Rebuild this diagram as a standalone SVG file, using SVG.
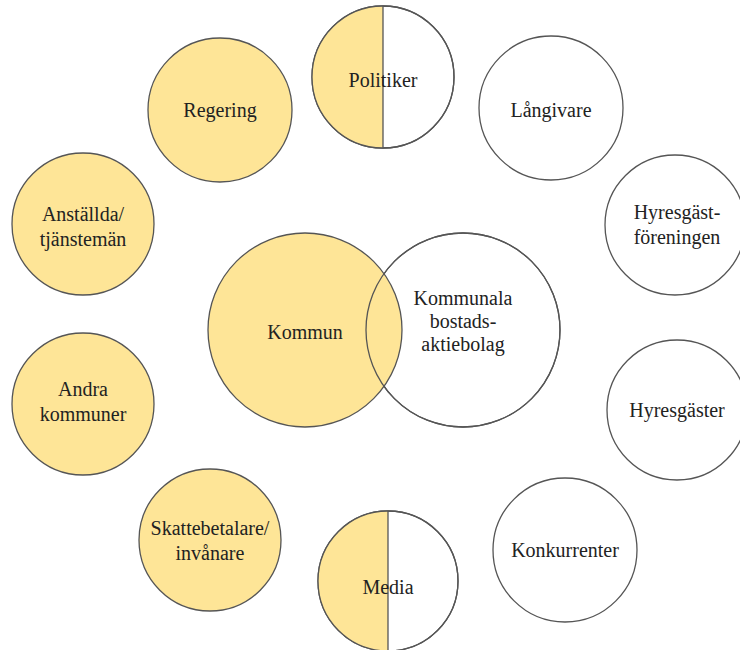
<svg xmlns="http://www.w3.org/2000/svg" width="740" height="650" viewBox="0 0 740 650">
<style>
.y{fill:#FEE597;stroke:#555;stroke-width:1.3}
.w{fill:#fff;stroke:#555;stroke-width:1.3}
.o{fill:none;stroke:#555;stroke-width:1.3}
.hf{fill:#FEE597;stroke:none}
text{font-family:'Liberation Serif','Times New Roman',serif;font-size:20px;fill:#222;text-anchor:middle}
</style>
<rect width="740" height="650" fill="#fff"/>
<g id="connectors"></g>
<g id="kommunala">
<circle class="w" cx="463" cy="330" r="97"/>
</g>
<g id="kommun">
<circle class="y" cx="305" cy="330" r="97"/>
<text x="305" y="339">Kommun</text>
</g>
<g id="kommunala-label">
<circle class="o" cx="463" cy="330" r="97"/>
<text x="463" y="305">Kommunala</text>
<text x="463" y="328">bostads-</text>
<text x="463" y="351">aktiebolag</text>
</g>
<g id="politiker">
<circle class="w" cx="383" cy="77" r="71"/>
<path class="hf" d="M383,6 A71,71 0 0 0 383,148 Z"/>
<circle class="o" cx="383" cy="77" r="71"/>
<line x1="383" y1="6" x2="383" y2="148" stroke="#555" stroke-width="1.3"/>
<text x="383" y="87">Politiker</text>
</g>
<g id="media">
<circle class="w" cx="388" cy="581" r="70"/>
<path class="hf" d="M388,511 A70,70 0 0 0 388,651 Z"/>
<circle class="o" cx="388" cy="581" r="70"/>
<line x1="388" y1="511" x2="388" y2="651" stroke="#555" stroke-width="1.3"/>
<text x="388" y="594">Media</text>
</g>
<g id="regering">
<circle class="y" cx="220" cy="110" r="72"/>
<text x="220" y="117">Regering</text>
</g>
<g id="langivare">
<circle class="w" cx="551" cy="108" r="72"/>
<text x="551" y="117">Långivare</text>
</g>
<g id="hyresgastforeningen">
<circle class="w" cx="675" cy="225" r="70"/>
<text x="677" y="219">Hyresgäst-</text>
<text x="677" y="244">föreningen</text>
</g>
<g id="hyresgaster">
<circle class="w" cx="677" cy="410" r="70"/>
<text x="677" y="417">Hyresgäster</text>
</g>
<g id="konkurrenter">
<circle class="w" cx="565" cy="550" r="72"/>
<text x="565" y="557">Konkurrenter</text>
</g>
<g id="skattebetalare">
<circle class="y" cx="210" cy="540" r="71"/>
<text x="210" y="535">Skattebetalare/</text>
<text x="210" y="560">invånare</text>
</g>
<g id="andra-kommuner">
<circle class="y" cx="83" cy="404" r="71"/>
<text x="83" y="396">Andra</text>
<text x="83" y="421">kommuner</text>
</g>
<g id="anstallda">
<circle class="y" cx="83" cy="224" r="71"/>
<text x="83" y="221">Anställda/</text>
<text x="83" y="246">tjänstemän</text>
</g>
</svg>
